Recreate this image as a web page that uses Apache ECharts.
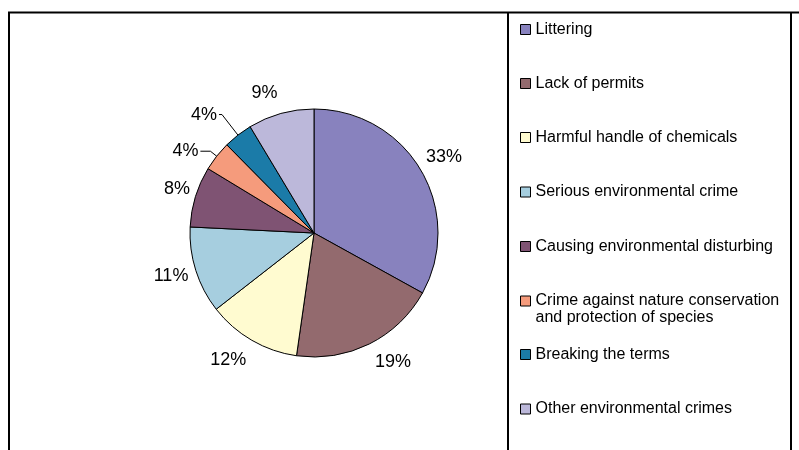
<!DOCTYPE html>
<html><head><meta charset="utf-8">
<script src="https://cdn.jsdelivr.net/npm/echarts@6/dist/echarts.min.js"></script>
<style>html,body{margin:0;padding:0;background:#fff}#c{width:799px;height:450px}</style>
</head><body><div id="c"></div>
<script>
const categories = [
  'Littering',
  'Lack of permits',
  'Harmful handle of chemicals',
  'Serious environmental crime',
  'Causing environmental disturbing',
  'Crime against nature conservation and protection of species',
  'Breaking the terms',
  'Other environmental crimes'
];
const values = [33.0, 19.2, 12.2, 11.3, 7.9, 3.9, 3.8, 8.6];
const colors = ['#8882BE', '#936A6E', '#FFFBD0', '#A6CEDF', '#7F5373', '#F59B7C', '#1B7BA8', '#BCB8DA'];

// styling / placement helpers (not data)
const legendCenterY = [29.5, 83.5, 137.5, 192, 246.5, 301, 354.5, 409];
const leaderLines = [null, null, null, null, null, {length: 8, length2: 10}, {length: 26, length2: 3}, null];
const labelNudge = [[-6, -6], [0, 6], [1, 8], [5, 2], [7, -4], null, null, [0, -8]];

const font = 'Liberation Sans, Arial, sans-serif';
const chart = echarts.init(document.getElementById('c'), null, {renderer: 'canvas'});

const legends = categories.map((name, i) => {
  const multi = i === 5;
  return {
    orient: 'vertical',
    left: 520,
    top: multi ? legendCenterY[i] - 25.5 : legendCenterY[i] - 8.5,
    padding: 0,
    itemWidth: 10,
    itemHeight: 10,
    itemGap: 5,
    icon: 'rect',
    selectedMode: false,
    data: [name],
    formatter: n => n === categories[5] ? ' \nCrime against nature conservation\nand protection of species' : n,
    itemStyle: {borderColor: '#000', borderWidth: 1},
    textStyle: {fontSize: 16, fontFamily: font, color: '#000', lineHeight: 17}
  };
});

const frame = [
  {type: 'line', shape: {x1: 8, y1: 12.5, x2: 799, y2: 12.5}},
  {type: 'line', shape: {x1: 9, y1: 12, x2: 9, y2: 450}},
  {type: 'line', shape: {x1: 508, y1: 12, x2: 508, y2: 450}},
  {type: 'line', shape: {x1: 791, y1: 12, x2: 791, y2: 450}}
].map(g => Object.assign(g, {style: {stroke: '#000', lineWidth: 2}, silent: true}));

chart.setOption({
  animation: false,
  backgroundColor: '#fff',
  color: colors,
  legend: legends,
  graphic: frame,
  series: [{
    type: 'pie',
    center: [314, 233],
    radius: 124,
    startAngle: 90,
    clockwise: true,
    avoidLabelOverlap: false,
    itemStyle: {borderColor: '#000', borderWidth: 1},
    emphasis: {disabled: true},
    label: {
      show: true,
      position: 'outside',
      formatter: p => Math.round(p.value) + '%',
      fontSize: 18,
      fontFamily: font,
      color: '#000',
      distanceToLabelLine: 0
    },
    labelLine: {show: false, length: 13, length2: 0, smooth: false, lineStyle: {color: '#000', width: 1}},
    labelLayout: p => {
      const n = labelNudge[p.dataIndex];
      return n ? {dx: n[0], dy: n[1]} : {};
    },
    data: categories.map((name, i) => {
      const item = {name: name, value: values[i]};
      if (leaderLines[i]) {
        item.labelLine = Object.assign({show: true}, leaderLines[i]);
        item.label = {distanceToLabelLine: 2};
      }
      return item;
    })
  }]
});
</script>
</body></html>
